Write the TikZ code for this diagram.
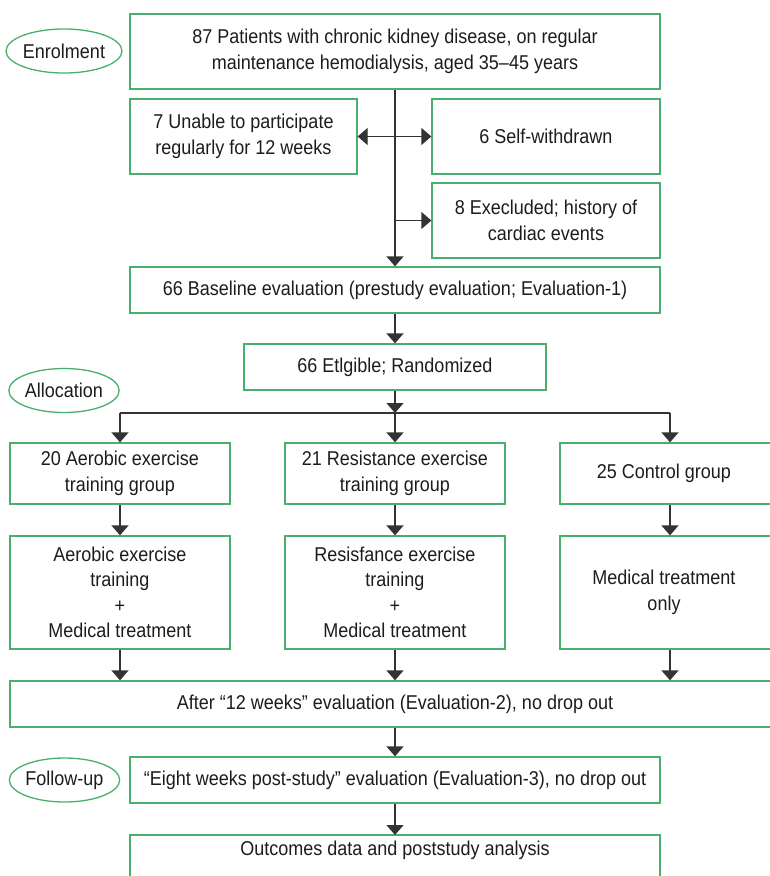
\documentclass[tikz,border=0pt]{standalone}
\usepackage{fontspec}
\setmainfont[FakeStretch=0.9]{Liberation Sans}
\usetikzlibrary{arrows.meta,shapes.geometric}
\definecolor{boxgreen}{RGB}{72,176,108}
\definecolor{arrgray}{RGB}{51,51,51}
\definecolor{txt}{RGB}{30,27,28}
\begin{document}
\begin{tikzpicture}[x=1pt,y=-1pt,
  box/.style={draw=boxgreen,line width=1.3pt,inner sep=0pt,align=center,text=txt,
    font=\fontsize{20}{25.5}\selectfont},
  plainbox/.style={box,draw=none,outer sep=0pt},
  frame/.style={draw=boxgreen,line width=1.3pt},
  oval/.style={ellipse,draw=boxgreen,line width=1.3pt,inner sep=0pt,text=txt,
    minimum width=108pt,minimum height=44pt,font=\fontsize{20}{25.5}\selectfont},
  conn/.style={draw=arrgray,line width=1.3pt},
  arr/.style={conn,-{Triangle[length=10pt,width=17pt]}}]
\useasboundingbox (0,0) rectangle (769,876);

% stage labels
\node[oval] (enrol) at (64,51) {Enrolment};
\node[oval] (alloc) at (64,390.5) {Allocation};
\node[oval] (follow) at (64.5,780) {Follow-up};

% boxes
\node[box,minimum width=530pt,minimum height=75pt] (top) at (395,51.5)
  {87 Patients with chronic kidney disease, on regular\\maintenance hemodialysis, aged 35–45 years};
\node[box,minimum width=227pt,minimum height=75pt] (unable) at (243.5,136.5)
  {7 Unable to participate\\regularly for 12 weeks};
\node[box,minimum width=228pt,minimum height=75pt] (self) at (546,136.5)
  {6 Self-withdrawn};
\node[box,minimum width=228pt,minimum height=75pt] (excl) at (546,220.5)
  {8 Execluded; history of\\cardiac events};
\node[box,minimum width=530pt,minimum height=46pt] (base) at (395,290)
  {66 Baseline evaluation (prestudy evaluation; Evaluation-1)};
\node[box,minimum width=302pt,minimum height=46pt] (elig) at (395,367)
  {66 Etlgible; Randomized};

\node[box,minimum width=220pt,minimum height=61pt] (g1) at (120,473.5)
  {20 Aerobic exercise\\training group};
\node[box,minimum width=220pt,minimum height=61pt] (g2) at (395,473.5)
  {21 Resistance exercise\\training group};
\node[box,minimum width=220pt,minimum height=61pt] (g3) at (670,473.5)
  {\hspace*{-12pt}25 Control group};

\node[box,minimum width=220pt,minimum height=113pt] (r1) at (120,592.5)
  {Aerobic exercise\\training\\+\\Medical treatment};
\node[box,minimum width=220pt,minimum height=113pt] (r2) at (395,592.5)
  {Resisfance exercise\\training\\+\\Medical treatment};
\node[box,minimum width=220pt,minimum height=113pt] (r3) at (670,592.5)
  {\hspace*{-12pt}Medical treatment\\\hspace*{-12pt}only};

\node[box,minimum width=770pt,minimum height=46pt] (after) at (395,704)
  {After “12 weeks” evaluation (Evaluation-2), no drop out};
\node[box,minimum width=530pt,minimum height=46pt] (eight) at (395,780)
  {“Eight weeks post-study” evaluation (Evaluation-3), no drop out};
\node[plainbox,minimum width=530pt,minimum height=30pt] (outc) at (395,850)
  {Outcomes data and poststudy analysis};
\draw[frame] ([yshift=-30pt]outc.south west) -- (outc.north west)
  -- (outc.north east) -- ([yshift=-30pt]outc.south east);

% junctions
\coordinate (j1) at (395,136.5);
\coordinate (j2) at (395,220.5);
\coordinate (split) at (395,413);
\coordinate (s1) at (g1.north |- split);
\coordinate (s3) at (g3.north |- split);

% connectors
\draw[arr] (top.south) -- (base.north);
\draw[arr] (j1) -- (unable.east);
\draw[arr] (j1) -- (self.west);
\draw[arr] (j2) -- (excl.west);
\draw[arr] (base.south) -- (elig.north);
\draw[arr] (elig.south) -- (split);
\draw[conn] (s1) -- (s3);
\draw[arr] (s1) -- (g1.north);
\draw[arr] (split) -- (g2.north);
\draw[arr] (s3) -- (g3.north);
\draw[arr] (g1.south) -- (r1.north);
\draw[arr] (g2.south) -- (r2.north);
\draw[arr] (g3.south) -- (r3.north);
\draw[arr] (r1.south) -- (r1.south |- after.north);
\draw[arr] (r2.south) -- (r2.south |- after.north);
\draw[arr] (r3.south) -- (r3.south |- after.north);
\draw[arr] (after.south) -- (eight.north);
\draw[arr] (eight.south) -- (outc.north);
\end{tikzpicture}
\end{document}
